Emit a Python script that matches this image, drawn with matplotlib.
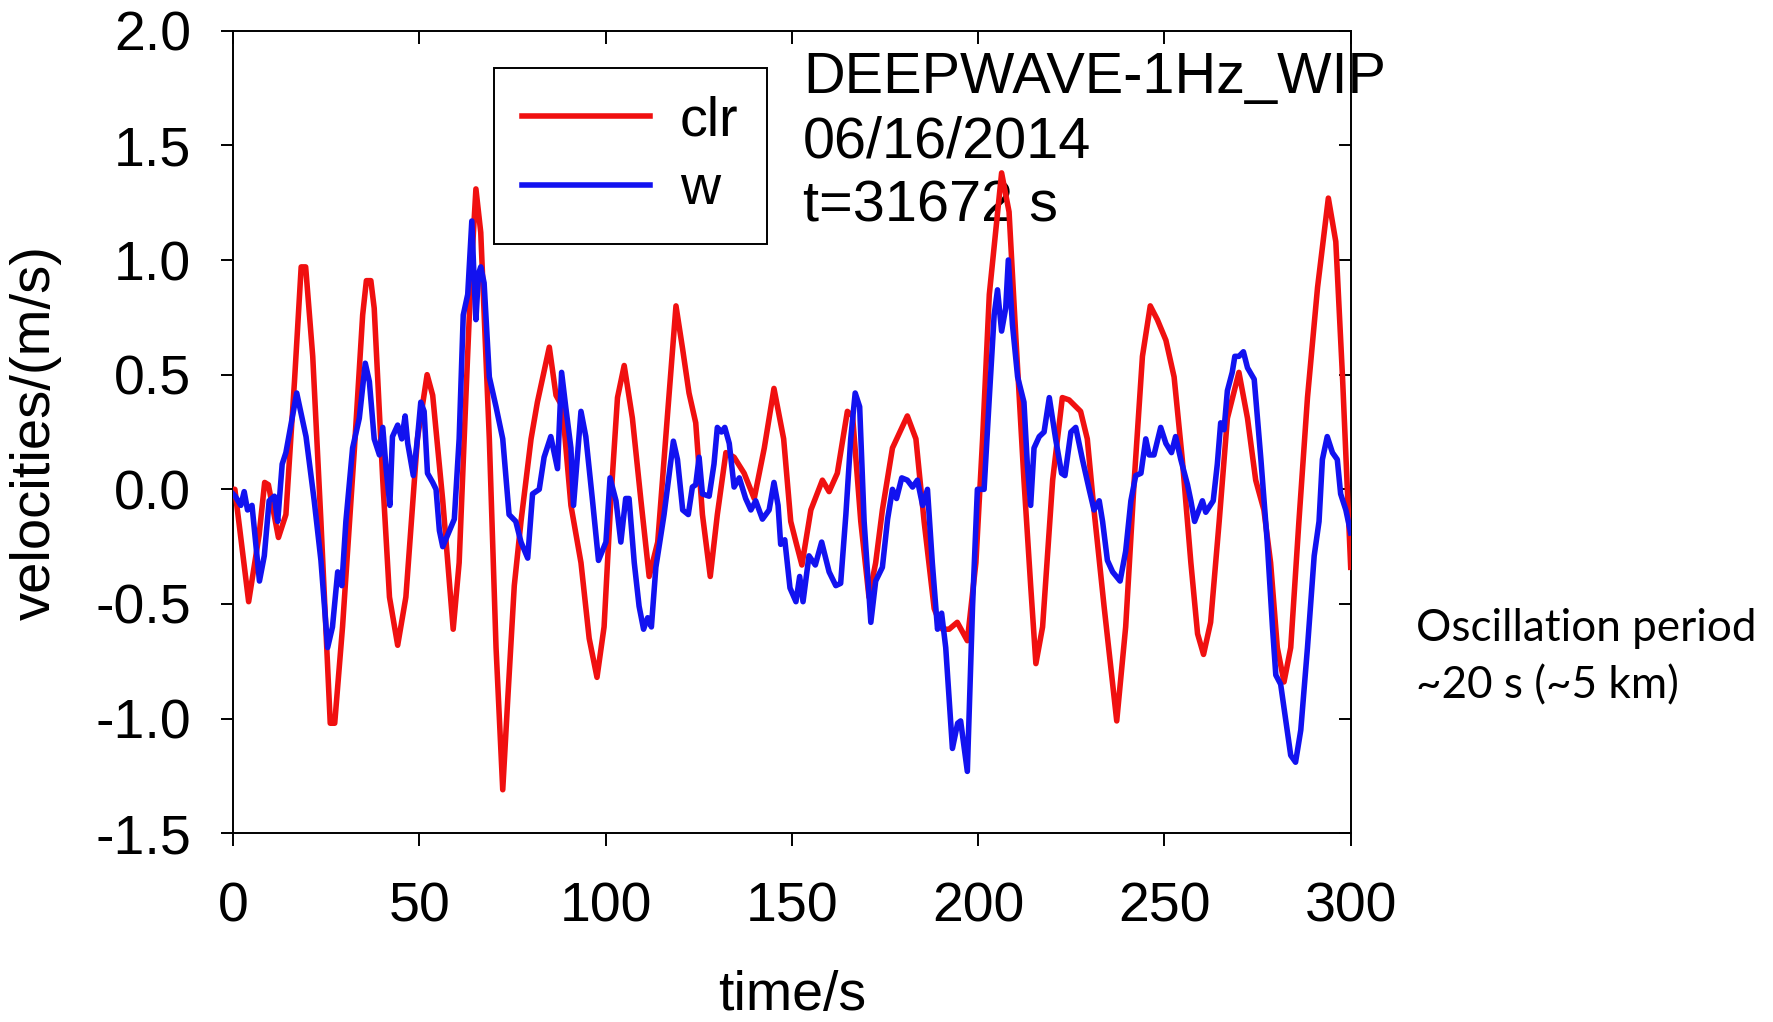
import matplotlib
matplotlib.use("Agg")
import matplotlib.pyplot as plt

plt.rcParams['font.family'] = ['Liberation Sans', 'DejaVu Sans']
plt.rcParams['axes.unicode_minus'] = False

# clr (red) trace
clr_t = [0.0, 0.5, 4.2, 7.0, 8.5, 9.5, 12.2, 14.2, 16.5, 18.3, 19.5, 21.4, 23.6,
         26.1, 27.3, 29.4, 32.6, 34.8, 35.8, 37.0, 37.9, 40.2, 42.0, 44.2, 46.4,
         49.5, 52.1, 53.6, 56.3, 59.1, 60.7, 62.5, 63.9, 65.2, 66.5, 68.8, 70.6,
         72.4, 73.8, 75.5, 77.3, 80.0, 81.7, 84.9, 86.7, 88.4, 90.7, 93.4, 95.6,
         97.7, 99.6, 101.4, 103.2, 105.0, 107.2, 109.5, 111.7, 114.0, 116.6,
         118.9, 120.7, 122.4, 124.2, 126.0, 128.1, 130.0, 132.3, 134.5, 137.2,
         139.9, 142.6, 145.2, 147.8, 149.7, 151.1, 152.7, 155.1, 158.2, 160.0,
         162.2, 164.9, 166.3, 168.5, 170.7, 172.5, 174.3, 177.0, 181.0, 183.3,
         185.5, 188.2, 190.4, 192.2, 194.4, 197.1, 199.4, 201.2, 203.0, 206.3,
         208.3, 210.1, 212.3, 214.1, 215.5, 217.3, 220.0, 222.6, 224.4, 227.5,
         229.3, 231.1, 233.8, 237.2, 239.6, 241.9, 244.1, 246.2, 248.1, 250.4,
         252.6, 254.8, 257.1, 258.9, 260.5, 262.4, 264.7, 266.9, 270.0, 272.3,
         274.5, 276.7, 278.5, 280.3, 282.1, 283.9, 286.1, 288.4, 291.1, 294.0,
         296.0, 297.8, 300.0]
clr_v = [0.0, 0.0, -0.49, -0.2, 0.03, 0.02, -0.21, -0.11, 0.47, 0.97, 0.97, 0.58, -0.14,
         -1.02, -1.02, -0.6, 0.18, 0.76, 0.91, 0.91, 0.79, 0.04, -0.47, -0.68, -0.47,
         0.22, 0.5, 0.41, -0.05, -0.61, -0.32, 0.4, 0.94, 1.31, 1.12, 0.22, -0.69,
         -1.31, -0.9, -0.42, -0.14, 0.22, 0.38, 0.62, 0.41, 0.36, -0.07, -0.32, -0.65,
         -0.82, -0.6, -0.05, 0.40, 0.54, 0.31, -0.05, -0.38, -0.23, 0.32,
         0.80, 0.61, 0.42, 0.29, -0.11, -0.38, -0.11, 0.16, 0.14, 0.07,
         -0.04, 0.18, 0.44, 0.22, -0.14, -0.23, -0.33, -0.09, 0.04, -0.01,
         0.07, 0.34, 0.32, -0.14, -0.47, -0.32, -0.09, 0.18, 0.32, 0.22,
         -0.14, -0.52, -0.61, -0.61, -0.58, -0.66, -0.32, 0.22, 0.85, 1.38,
         1.21, 0.67, 0.04, -0.42, -0.76, -0.6, 0.04, 0.40, 0.39, 0.34,
         0.22, -0.09, -0.51, -1.01, -0.6, 0.04, 0.58, 0.80, 0.74, 0.65,
         0.49, 0.13, -0.32, -0.63, -0.72, -0.58, -0.14, 0.31, 0.51, 0.31,
         0.04, -0.09, -0.32, -0.69, -0.84, -0.69, -0.14, 0.40, 0.88, 1.27,
         1.08, 0.49, -0.34]

# w (blue) trace
w_t = [0.0, 0.6, 2.1, 3.0, 3.9, 5.1, 7.1, 8.4, 9.7, 11.1, 12.0, 13.2, 14.2, 17.1,
       19.6, 21.8, 23.6, 25.4, 26.7, 28.1, 29.2, 30.3, 32.1, 33.9, 35.5, 36.6,
       37.9, 39.3, 40.2, 41.1, 42.1, 42.8, 44.2, 45.3, 46.2, 46.9, 48.4, 49.5,
       50.4, 51.3, 52.2, 53.6, 54.5, 55.4, 56.3, 58.1, 59.4, 60.7, 61.8, 63.0,
       64.1, 64.8, 65.2, 65.9, 66.5, 67.4, 68.8, 70.6, 72.4, 74.1, 75.9, 77.3,
       79.1, 80.4, 82.2, 83.5, 85.3, 87.1, 88.2, 89.3, 90.7, 91.4, 93.4, 94.7,
       96.5, 98.1, 100.1, 101.2, 102.8, 104.1, 105.4, 106.3, 107.7, 109.0,
       110.2, 111.3, 112.3, 113.5, 115.7, 117.1, 118.2, 119.3, 120.7, 122.2,
       123.3, 124.2, 125.1, 126.0, 127.8, 129.1, 130.0, 131.1, 132.0, 133.2,
       134.5, 135.9, 137.6, 139.0, 140.3, 142.1, 143.9, 145.2, 146.3, 147.0,
       148.1, 149.5, 151.1, 152.1, 153.0, 154.6, 156.3, 158.0, 160.0, 161.8,
       163.1, 164.5, 165.8, 167.0, 168.2, 169.4, 171.2, 172.5, 174.3, 175.7,
       177.0, 178.1, 179.5, 181.0, 182.4, 183.7, 185.1, 186.4, 187.7, 189.1,
       190.2, 191.3, 193.1, 194.5, 195.3, 197.1, 198.5, 199.8, 201.6, 203.0,
       204.3, 205.2, 206.3, 207.4, 208.1, 209.2, 210.6, 212.3, 213.2, 214.1,
       215.0, 216.4, 217.7, 219.1, 220.8, 222.4, 223.3, 224.9, 226.2, 228.0,
       229.8, 231.1, 232.5, 233.4, 234.7, 236.1, 238.1, 239.6, 241.0, 242.3,
       243.7, 245.0, 245.9, 247.2, 249.0, 250.4, 251.9, 253.0, 254.4, 256.2,
       257.1, 258.1, 260.2, 261.1, 263.1, 264.2, 265.1, 266.0, 266.9, 268.2,
       268.9, 270.0, 271.2, 272.3, 274.1, 275.9, 277.6, 279.0, 279.9, 281.2,
       282.6, 283.9, 285.2, 286.6, 288.4, 290.2, 291.5, 292.4, 293.7, 295.1,
       296.4, 297.3, 298.7, 300.0]
w_v = [-0.02, -0.03, -0.07, -0.01, -0.09, -0.07, -0.40, -0.29, -0.05, -0.03, -0.14, 0.11, 0.16, 0.42,
       0.23, -0.05, -0.31, -0.69, -0.6, -0.36, -0.42, -0.14, 0.18, 0.31, 0.55, 0.47,
       0.22, 0.15, 0.27, 0.09, -0.07, 0.23, 0.28, 0.22, 0.32, 0.20, 0.06, 0.22,
       0.38, 0.34, 0.07, 0.03, 0.0, -0.18, -0.25, -0.18, -0.13, 0.22, 0.76, 0.85,
       1.17, 0.88, 0.74, 0.94, 0.97, 0.90, 0.49, 0.36, 0.22, -0.11, -0.14, -0.23,
       -0.30, -0.02, 0.0, 0.14, 0.23, 0.09, 0.51, 0.36, 0.18, -0.07, 0.34, 0.23,
       -0.05, -0.31, -0.23, 0.05, -0.05, -0.23, -0.04, -0.04, -0.32, -0.51,
       -0.61, -0.56, -0.60, -0.34, -0.11, 0.07, 0.21, 0.13, -0.09, -0.11,
       0.01, 0.02, 0.14, -0.02, -0.03, 0.11, 0.27, 0.25, 0.27, 0.20,
       0.01, 0.05, -0.04, -0.09, -0.05, -0.13, -0.09, 0.03, -0.07, -0.24,
       -0.22, -0.43, -0.49, -0.38, -0.49, -0.29, -0.33, -0.23, -0.36, -0.42,
       -0.41, -0.11, 0.22, 0.42, 0.36, -0.14, -0.58, -0.40, -0.34, -0.13,
       0.0, -0.04, 0.05, 0.04, 0.01, 0.04, -0.07, 0.0, -0.32, -0.61,
       -0.54, -0.69, -1.13, -1.02, -1.01, -1.23, -0.51, 0.0, 0.0, 0.40,
       0.76, 0.87, 0.69, 0.79, 1.0, 0.72, 0.49, 0.38, 0.11, -0.07,
       0.18, 0.23, 0.25, 0.40, 0.22, 0.07, 0.06, 0.25, 0.27, 0.13,
       0.0, -0.09, -0.05, -0.14, -0.31, -0.36, -0.40, -0.27, -0.05, 0.06,
       0.07, 0.22, 0.15, 0.15, 0.27, 0.20, 0.16, 0.23, 0.13, 0.02,
       -0.05, -0.14, -0.05, -0.10, -0.05, 0.11, 0.29, 0.26, 0.43, 0.51,
       0.58, 0.58, 0.60, 0.53, 0.48, 0.13, -0.23, -0.60, -0.81, -0.85,
       -1.01, -1.16, -1.19, -1.05, -0.69, -0.29, -0.14, 0.13, 0.23, 0.16,
       0.13, -0.02, -0.09, -0.19]

x_ticks = [0, 50, 100, 150, 200, 250, 300]
y_ticks = [-1.5, -1.0, -0.5, 0.0, 0.5, 1.0, 1.5, 2.0]
info_lines = ['DEEPWAVE-1Hz_WIP', '06/16/2014', 't=31672 s']
note_lines = ['Oscillation period', '~20 s (~5 km)']

W, H = 1774, 1022
fig = plt.figure(figsize=(W / 100, H / 100), dpi=100)
ax = fig.add_axes([233 / W, 1 - 833.3 / H, (1350.7 - 233) / W, (833.3 - 30.7) / H])

ax.plot(clr_t, clr_v, color='#f01010', lw=4.0, label='clr', zorder=3,
        solid_joinstyle='round')
ax.plot(w_t, w_v, color='#1212f0', lw=4.0, label='w', zorder=4,
        solid_joinstyle='round')

ax.set_xlim(0, 300)
ax.set_ylim(-1.5, 2.0)
ax.set_xticks(x_ticks)
ax.set_yticks(y_ticks)
ax.set_yticklabels(['%.1f' % v for v in y_ticks])
for s in ax.spines.values():
    s.set_linewidth(1.4)

ax.tick_params(axis='x', which='major', direction='out', length=9, width=1.4,
               labelsize=40, pad=26)
ax.tick_params(axis='y', which='major', direction='out', length=9, width=1.4,
               labelsize=40, pad=21)
# inward ticks on the top and right edges
ax.tick_params(top=True, right=True, labeltop=False, labelright=False)
for tick in ax.xaxis.get_major_ticks():
    tick.tick2line.set_marker(3)
for tick in ax.yaxis.get_major_ticks():
    tick.tick2line.set_marker(0)

ax.set_xlabel('time/s', fontsize=40)
ax.set_ylabel('velocities/(m/s)', fontsize=40.5)
ax.xaxis.set_label_coords(0.5, -0.17)
ax.yaxis.set_label_coords(-0.153, 0.5)

leg = ax.legend(loc='upper left', bbox_to_anchor=(494 / W, 1 - 68 / H),
                bbox_transform=fig.transFigure, fontsize=40, handlelength=2.3,
                handletextpad=0.55, borderpad=0.5, labelspacing=0.3,
                borderaxespad=0, fancybox=False, framealpha=1, edgecolor='black')
leg.get_frame().set_linewidth(1.4)
leg.set_zorder(5)
for h in leg.get_lines():
    h.set_linewidth(4.0)

for line, yb in zip(info_lines, [93, 157, 221]):
    ax.text(803 / W, 1 - yb / H, line, transform=fig.transFigure, fontsize=41.5,
            va='baseline', ha='left', clip_on=False, zorder=1)

for line, yb in zip(note_lines, [641, 698]):
    ax.text(1416 / W, 1 - yb / H, line, transform=fig.transFigure, fontsize=31.7,
            family=['Lato', 'DejaVu Sans'], va='baseline', ha='left',
            clip_on=False, zorder=1)

fig.savefig('out.png', dpi=100)
